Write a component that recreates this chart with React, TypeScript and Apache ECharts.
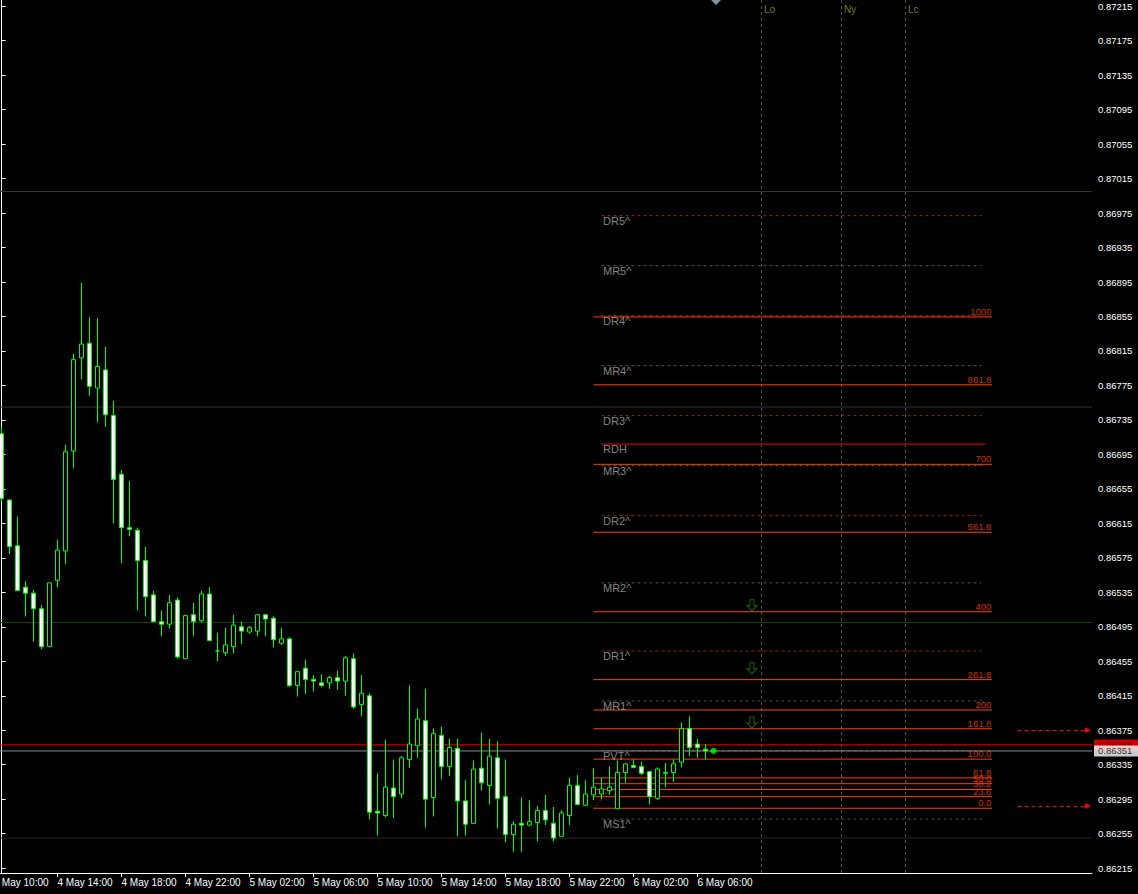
import React, { useEffect, useRef } from 'react';
import * as echarts from 'echarts';

const FONT = "'Liberation Sans', Arial, sans-serif";

// M30 bars; bar 0 opens at 4 May 10:30
const opens = [
  0.86719, 0.86642, 0.86589, 0.86541, 0.86534, 0.86516, 0.86472, 0.86549, 0.86583, 0.86699,
  0.86807, 0.86824, 0.86772, 0.86793, 0.86740, 0.86672, 0.86610, 0.86607, 0.86572, 0.86532,
  0.86501, 0.86498, 0.86526, 0.86458, 0.86509, 0.86502, 0.86533, 0.86467, 0.86465, 0.86472,
  0.86495, 0.86489, 0.86490, 0.86509, 0.86505, 0.86476, 0.86481, 0.86427, 0.86447, 0.86434,
  0.86430, 0.86430, 0.86436, 0.86432, 0.86458, 0.86405, 0.86415, 0.86281, 0.86276, 0.86308,
  0.86301, 0.86341, 0.86357, 0.86386, 0.86297, 0.86369, 0.86333, 0.86354, 0.86293, 0.86267,
  0.86331, 0.86311, 0.86343, 0.86298, 0.86254, 0.86267, 0.86265, 0.86268, 0.86282, 0.86267,
  0.86252, 0.86276, 0.86311, 0.86288, 0.86300, 0.86301, 0.86305, 0.86284, 0.86326, 0.86334,
  0.86333, 0.86327, 0.86296, 0.86325, 0.86326, 0.86338, 0.86377, 0.86359, 0.86353,
];
const highs = [
  0.86727, 0.86643, 0.86623, 0.86548, 0.86538, 0.86520, 0.86546, 0.86596, 0.86706, 0.86812,
  0.86894, 0.86854, 0.86853, 0.86820, 0.86757, 0.86677, 0.86664, 0.86610, 0.86588, 0.86537,
  0.86514, 0.86532, 0.86529, 0.86509, 0.86523, 0.86537, 0.86541, 0.86488, 0.86494, 0.86509,
  0.86501, 0.86496, 0.86509, 0.86509, 0.86507, 0.86494, 0.86483, 0.86443, 0.86457, 0.86439,
  0.86440, 0.86438, 0.86444, 0.86461, 0.86464, 0.86439, 0.86418, 0.86325, 0.86364, 0.86341,
  0.86345, 0.86427, 0.86400, 0.86423, 0.86377, 0.86379, 0.86365, 0.86365, 0.86317, 0.86340,
  0.86372, 0.86365, 0.86362, 0.86341, 0.86269, 0.86297, 0.86294, 0.86287, 0.86300, 0.86286,
  0.86282, 0.86320, 0.86323, 0.86317, 0.86331, 0.86320, 0.86333, 0.86340, 0.86337, 0.86341,
  0.86339, 0.86327, 0.86332, 0.86337, 0.86341, 0.86384, 0.86391, 0.86365, 0.86359,
];
const lows = [
  0.86640, 0.86579, 0.86537, 0.86507, 0.86478, 0.86469, 0.86472, 0.86541, 0.86568, 0.86679,
  0.86782, 0.86763, 0.86732, 0.86727, 0.86615, 0.86569, 0.86600, 0.86514, 0.86507, 0.86501,
  0.86484, 0.86493, 0.86458, 0.86458, 0.86484, 0.86500, 0.86479, 0.86455, 0.86461, 0.86464,
  0.86475, 0.86487, 0.86484, 0.86484, 0.86471, 0.86474, 0.86425, 0.86414, 0.86417, 0.86420,
  0.86425, 0.86423, 0.86422, 0.86415, 0.86400, 0.86391, 0.86272, 0.86253, 0.86274, 0.86273,
  0.86296, 0.86331, 0.86343, 0.86262, 0.86275, 0.86318, 0.86322, 0.86252, 0.86253, 0.86267,
  0.86305, 0.86289, 0.86261, 0.86245, 0.86234, 0.86234, 0.86264, 0.86246, 0.86265, 0.86246,
  0.86252, 0.86265, 0.86289, 0.86287, 0.86294, 0.86295, 0.86300, 0.86284, 0.86314, 0.86331,
  0.86323, 0.86289, 0.86294, 0.86309, 0.86315, 0.86332, 0.86345, 0.86343, 0.86341,
];
const closes = [
  0.86644, 0.86588, 0.86537, 0.86534, 0.86516, 0.86472, 0.86546, 0.86584, 0.86698, 0.86805,
  0.86823, 0.86774, 0.86797, 0.86741, 0.86666, 0.86610, 0.86608, 0.86572, 0.86530, 0.86501,
  0.86498, 0.86523, 0.86460, 0.86508, 0.86501, 0.86533, 0.86479, 0.86467, 0.86474, 0.86497,
  0.86490, 0.86494, 0.86509, 0.86504, 0.86480, 0.86481, 0.86427, 0.86443, 0.86434, 0.86432,
  0.86427, 0.86436, 0.86432, 0.86459, 0.86402, 0.86418, 0.86280, 0.86279, 0.86309, 0.86298,
  0.86343, 0.86359, 0.86388, 0.86295, 0.86371, 0.86333, 0.86355, 0.86293, 0.86266, 0.86330,
  0.86314, 0.86345, 0.86296, 0.86254, 0.86266, 0.86265, 0.86269, 0.86282, 0.86271, 0.86250,
  0.86279, 0.86311, 0.86289, 0.86301, 0.86309, 0.86307, 0.86309, 0.86326, 0.86336, 0.86332,
  0.86325, 0.86298, 0.86330, 0.86326, 0.86336, 0.86377, 0.86355, 0.86355, 0.86351,
];

const timeTickBars = [-1, 7, 15, 23, 31, 39, 47, 55, 63, 71, 79, 87];
const timeTickLabels = [
  '4 May 10:00', '4 May 14:00', '4 May 18:00', '4 May 22:00', '5 May 02:00', '5 May 06:00',
  '5 May 10:00', '5 May 14:00', '5 May 18:00', '5 May 22:00', '6 May 02:00', '6 May 06:00',
];

const priceTicks = [
  0.86215, 0.86255, 0.86295, 0.86335, 0.86375, 0.86415, 0.86455, 0.86495, 0.86535, 0.86575,
  0.86615, 0.86655, 0.86695, 0.86735, 0.86775, 0.86815, 0.86855, 0.86895, 0.86935, 0.86975,
  0.87015, 0.87055, 0.87095, 0.87135, 0.87175, 0.87215,
];

const BID = 0.86351;
const ASK = 0.86358;

// quarter-figure levels across the whole chart
const roundLevels = [0.87, 0.8675, 0.865, 0.8625];
const roundColors = ['#343434', '#3a3030', '#0d420d', '#31271a'];

// daily / monthly pivot ladder
const pivotNames = ['DR5^', 'MR5^', 'DR4^', 'MR4^', 'DR3^', 'RDH', 'MR3^', 'DR2^', 'MR2^', 'DR1^', 'MR1^', 'PVT^', 'MS1^'];
const pivotPrices = [0.86972, 0.86914, 0.86856, 0.86798, 0.8674, 0.86707, 0.86682, 0.86624, 0.86546, 0.86467, 0.86409, 0.86351, 0.86272];

// fibonacci expansion
const fibLow = 0.862845;
const fibHigh = 0.863415;
const fibRatios = [0, 23.6, 38.2, 50, 61.8, 100, 161.8, 200, 261.8, 400, 561.8, 700, 861.8, 1000];
const fibLabels = ['0.0', '23.6', '38.2', '50.0', '61.8', '100.0', '161.8', '200', '261.8', '400', '561.8', '700', '861.8', '1000'];

// sell signals
const signalBar = 93.8;
const signalPrices = [0.8652, 0.86447, 0.86384];

// price targets flagged at the right edge
const targetPrices = [0.86375, 0.86287];

const sessionBars = [95, 105, 113];
const sessionNames = ['Lo', 'Ny', 'Lc'];

const lastTickBar = 89;
const lastTickPrice = 0.86351;

// plot geometry: 8 px per bar
const PLOT_W = 1112;
const PLOT_H = 873;
const BAR_PX = 8;
const X_MIN = -2.6875;
const X_MAX = X_MIN + PLOT_W / BAR_PX;
const Y_MAX = 0.8722216;
const Y_MIN = Y_MAX - PLOT_H / 86200;

const FIB_START = 74;
const FIB_END = 123.8;
const PIV_START = 75;
const PIV_END = 122.5;

const OLIVE = '#55552f';
const DARK_RED = '#9a1c1c';
const FIB_COLOR = '#ff4000';

function hSeg(x1: number, x2: number, price: number, color: string, type: any, z = 3) {
  return {
    type: 'line',
    data: [[x1, price], [x2, price]],
    symbol: 'none',
    silent: true,
    z,
    lineStyle: { color, width: 1, type },
  };
}

function textLayer(items: any[], z = 8) {
  return {
    type: 'scatter',
    symbol: 'rect',
    symbolSize: 1,
    silent: true,
    clip: false,
    z,
    itemStyle: { color: 'transparent' },
    data: items,
  };
}

function priceTag(price: number, bg: string, fg: string) {
  return {
    value: [X_MAX, price],
    label: {
      show: true, formatter: price.toFixed(5), position: [2.5, 0.5], align: 'left', verticalAlign: 'middle',
      backgroundColor: bg, color: fg, fontFamily: FONT, fontSize: 9.5, lineHeight: 11,
      padding: [0, 6, 0, 4],
    },
  };
}

export default function App() {
  const ref = useRef<HTMLDivElement>(null);

  useEffect(() => {
    if (!ref.current) return;
    const chart = echarts.init(ref.current, null, { renderer: 'svg' });

    const series: any[] = [];

    roundLevels.forEach((p, i) => series.push(hSeg(X_MIN, X_MAX, p, roundColors[i], 'solid', 1)));

    sessionBars.forEach((b) =>
      series.push({
        type: 'line',
        data: [[b, Y_MIN], [b, Y_MAX]],
        symbol: 'none',
        silent: true,
        z: 2,
        lineStyle: { color: OLIVE, width: 1, type: [3, 3] },
      })
    );

    pivotNames.forEach((n, i) => {
      if (n === 'RDH') {
        series.push(hSeg(PIV_START, 123, pivotPrices[i], '#ff0000', 'solid', 3));
      } else {
        series.push(hSeg(PIV_START, PIV_END, pivotPrices[i], n.startsWith('DR') ? DARK_RED : OLIVE, [3, 3], 3));
      }
    });

    fibRatios.forEach((r) =>
      series.push(hSeg(FIB_START, FIB_END, fibLow + (r / 100) * (fibHigh - fibLow), FIB_COLOR, 'solid', 4))
    );

    // fib anchor trendline
    series.push({
      type: 'line',
      data: [[74.1, fibLow], [78.8, fibHigh]],
      symbol: 'none',
      silent: true,
      z: 4,
      lineStyle: { color: '#ff2000', width: 1, type: [1, 2] },
    });

    // ask and bid lines
    series.push(hSeg(X_MIN, X_MAX, ASK, '#ff0000', 'solid', 6));
    series.push(hSeg(X_MIN, X_MAX, BID, '#8c8c8c', 'solid', 6));

    // target arrows at the right edge
    series.push({
      type: 'line',
      data: [],
      silent: true,
      z: 6,
      markLine: {
        silent: true,
        symbol: ['none', 'none'],
        animation: false,
        data: targetPrices.map((p) => [
          { coord: [127, p], symbol: 'none' },
          {
            coord: [135.8, p], symbol: 'triangle', symbolSize: 6,
            lineStyle: { color: '#ff0000', width: 1, type: [4, 3] },
            label: { show: false },
            itemStyle: { color: '#ff0000' },
          },
        ]),
      },
    });

    series.push({
      type: 'candlestick',
      data: opens.map((o, i) => [i, o, closes[i], lows[i], highs[i]]),
      encode: { x: 0, y: [1, 2, 3, 4] },
      barWidth: 4,
      silent: true,
      z: 10,
      itemStyle: {
        color: '#000000',
        color0: '#ffffff',
        borderColor: '#00ff00',
        borderColor0: '#00ff00',
        borderColorDoji: '#00ff00',
        borderWidth: 1,
      },
    });

    series.push({
      type: 'scatter',
      data: [[lastTickBar, lastTickPrice]],
      symbol: 'circle',
      symbolSize: 6,
      silent: true,
      z: 11,
      itemStyle: { color: '#00ff00' },
    });

    series.push({
      type: 'scatter',
      data: signalPrices.map((p) => [signalBar, p]),
      symbol: 'path://M3,0L7,0L7,6L10,6L5,11L0,6L3,6Z',
      symbolSize: [10, 11],
      silent: true,
      z: 7,
      itemStyle: { color: '#000000', borderColor: '#1d7d1d', borderWidth: 1 },
    });

    series.push(
      textLayer(
        pivotNames.map((n, i) => ({
          value: [PIV_START, pivotPrices[i]],
          label: {
            show: true, formatter: n, position: [2, 0], align: 'left', verticalAlign: 'top',
            color: '#a9a9a9', fontFamily: FONT, fontSize: 11,
          },
        }))
      )
    );

    series.push(
      textLayer(
        fibRatios.map((r, i) => ({
          value: [FIB_END, fibLow + (r / 100) * (fibHigh - fibLow)],
          label: {
            show: true, formatter: fibLabels[i], position: [0, 0], align: 'right', verticalAlign: 'bottom',
            color: FIB_COLOR, fontFamily: FONT, fontSize: 9.5,
          },
        }))
      )
    );

    series.push(
      textLayer(
        sessionBars.map((b, i) => ({
          value: [b, Y_MAX],
          label: {
            show: true, formatter: sessionNames[i], position: [3, 5], align: 'left', verticalAlign: 'top',
            color: '#9c9a2c', fontFamily: FONT, fontSize: 10,
          },
        }))
      )
    );

    // price tags on the axis: ask first, bid drawn over it
    series.push(textLayer([priceTag(ASK, '#ff0000', '#5a0000'), priceTag(BID, '#ffffff', '#000000')], 20));

    chart.setOption({
      animation: false,
      backgroundColor: '#000000',
      grid: { left: 0, top: 0, width: PLOT_W, height: PLOT_H, containLabel: false },
      xAxis: {
        type: 'value',
        min: X_MIN,
        max: X_MAX,
        splitLine: { show: false },
        axisLine: { show: true, onZero: false, lineStyle: { color: '#ffffff', width: 1 } },
        axisTick: { show: true, length: 4, customValues: timeTickBars, lineStyle: { color: '#ffffff' } },
        axisLabel: {
          show: true,
          customValues: timeTickBars,
          formatter: (v: number) => timeTickLabels[timeTickBars.indexOf(Math.round(v))] ?? '',
          align: 'left',
          margin: 4,
          color: '#ffffff',
          fontFamily: FONT,
          fontSize: 10,
        },
      },
      yAxis: {
        type: 'value',
        position: 'right',
        min: Y_MIN,
        max: Y_MAX,
        scale: true,
        splitLine: { show: false },
        axisLine: { show: true, lineStyle: { color: '#ffffff', width: 1 } },
        axisTick: { show: true, length: 4, customValues: priceTicks, lineStyle: { color: '#ffffff' } },
        axisLabel: {
          show: true,
          customValues: priceTicks,
          formatter: (v: number) => v.toFixed(5),
          margin: 6,
          color: '#ffffff',
          fontFamily: FONT,
          fontSize: 9.5,
        },
      },
      graphic: [
        {
          type: 'polygon',
          silent: true,
          shape: { points: [[731, 0], [741, 0], [736, 5]] },
          style: { fill: '#8393a3' },
          z: 100,
        },
      ],
      series,
    });

    return () => chart.dispose();
  }, []);

  return (
    <div
      ref={ref}
      style={{ position: 'fixed', left: -20, top: 0, width: 1158, height: 894, background: '#000000' }}
    />
  );
}
